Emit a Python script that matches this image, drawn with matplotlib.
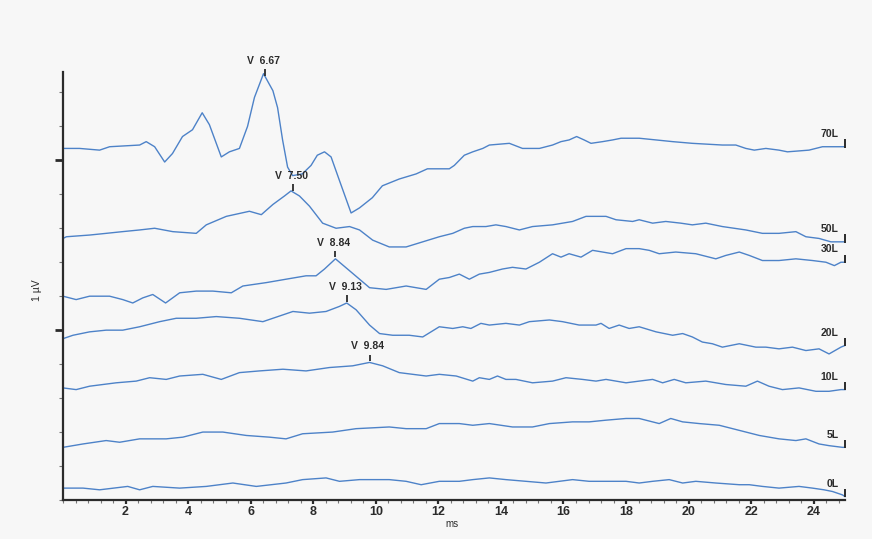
import numpy as np
import matplotlib
matplotlib.use("Agg")
import matplotlib.pyplot as plt
from matplotlib.ticker import MultipleLocator

# ---------------- data (ms, µV as displayed) ----------------
t70 = [0.0, 0.53, 1.17, 1.49, 2.45, 2.66, 2.93, 3.25, 3.50, 3.82,
       4.14, 4.45, 4.68, 5.06, 5.32, 5.64, 5.90, 6.12, 6.41, 6.71,
       6.86, 7.02, 7.18, 7.34, 7.65, 7.93, 8.13, 8.36, 8.57, 8.84,
       9.21, 9.48, 9.89, 10.21, 10.75, 11.29, 11.65,
       12.03, 12.35, 12.51, 12.83, 13.10, 13.42, 13.63, 14.27, 14.69, 15.23,
       15.65, 15.92, 16.18, 16.42, 16.66, 16.88, 17.25, 17.57, 17.84, 18.42,
       18.96, 19.49, 20.12, 21.08, 21.51, 21.83, 22.10, 22.47, 22.89, 23.16,
       23.85, 24.28, 24.81, 25.0]
v70 = [2.07, 2.07, 2.06, 2.08, 2.09, 2.11, 2.08, 1.99, 2.04, 2.14,
       2.18, 2.28, 2.21, 2.02, 2.05, 2.07, 2.20, 2.37, 2.51, 2.41,
       2.31, 2.12, 1.96, 1.91, 1.92, 1.97, 2.03, 2.05, 2.02, 1.88,
       1.69, 1.72, 1.78, 1.85, 1.89, 1.92, 1.95,
       1.95, 1.95, 1.97, 2.03, 2.05, 2.07, 2.09, 2.10, 2.07, 2.07,
       2.09, 2.11, 2.12, 2.14, 2.12, 2.10, 2.11, 2.12, 2.13, 2.13,
       2.12, 2.11, 2.10, 2.09, 2.09, 2.07, 2.06, 2.07, 2.06, 2.05,
       2.06, 2.08, 2.08, 2.08]

t50 = [0.0, 0.11, 0.85, 1.38, 1.90, 2.45, 2.93, 3.51, 4.26, 4.58,
       5.22, 5.96, 6.34, 6.71, 7.08, 7.29, 7.56, 7.88, 8.30, 8.73,
       9.16, 9.48, 9.90, 10.43, 10.97, 11.50,
       12.03, 12.46, 12.83, 13.10, 13.52, 13.84, 14.16, 14.59, 15.01, 15.65,
       16.29, 16.72, 17.14, 17.36, 17.68, 18.21, 18.42, 18.85, 19.27, 19.75,
       20.12, 20.55, 21.08, 21.83, 22.36, 22.89, 23.43, 23.75, 24.17, 24.55,
       24.87, 25.0]
v50 = [1.54, 1.55, 1.56, 1.57, 1.58, 1.59, 1.60, 1.58, 1.57, 1.62,
       1.67, 1.70, 1.68, 1.74, 1.79, 1.82, 1.79, 1.73, 1.63, 1.60,
       1.61, 1.59, 1.53, 1.49, 1.49, 1.52,
       1.55, 1.57, 1.60, 1.61, 1.61, 1.62, 1.61, 1.59, 1.61, 1.62,
       1.64, 1.67, 1.67, 1.67, 1.65, 1.64, 1.65, 1.63, 1.64, 1.63,
       1.62, 1.63, 1.61, 1.59, 1.57, 1.57, 1.58, 1.55, 1.54, 1.52,
       1.52, 1.52]

t30 = [0.0, 0.42, 0.85, 1.49, 1.91, 2.23, 2.55, 2.87, 3.28, 3.73,
       4.26, 4.79, 5.38, 5.75, 6.50, 7.13, 7.77, 8.09, 8.36, 8.71,
       9.16, 9.80, 10.33, 10.97, 11.61,
       12.03, 12.35, 12.67, 12.99, 13.31, 13.63, 14.05, 14.37, 14.80, 15.23,
       15.65, 15.92, 16.18, 16.56, 16.93, 17.25, 17.57, 18.00, 18.42, 18.74,
       19.06, 19.59, 20.23, 20.87, 21.19, 21.62, 21.94, 22.36, 22.89, 23.43,
       23.96, 24.39, 24.66, 24.87, 25.0]
v30 = [1.20, 1.18, 1.20, 1.20, 1.18, 1.16, 1.19, 1.21, 1.16, 1.22,
       1.23, 1.23, 1.22, 1.26, 1.28, 1.30, 1.32, 1.32, 1.36, 1.42,
       1.35, 1.25, 1.24, 1.26, 1.24,
       1.30, 1.31, 1.33, 1.30, 1.33, 1.34, 1.36, 1.37, 1.36, 1.40,
       1.45, 1.43, 1.45, 1.43, 1.47, 1.46, 1.45, 1.48, 1.48, 1.47,
       1.45, 1.46, 1.45, 1.42, 1.44, 1.46, 1.44, 1.41, 1.41, 1.42,
       1.41, 1.40, 1.38, 1.40, 1.40]

t20 = [0.0, 0.32, 0.85, 1.38, 1.91, 2.45, 3.09, 3.62, 4.26, 4.90,
       5.64, 6.39, 6.71, 7.35, 7.88, 8.41, 8.84, 9.07, 9.37, 9.80,
       10.12, 10.54, 11.07, 11.50,
       12.03, 12.46, 12.78, 13.04, 13.36, 13.63, 14.16, 14.59, 14.91, 15.55,
       15.97, 16.50, 17.04, 17.20, 17.46, 17.78, 18.10, 18.42, 18.96, 19.49,
       19.81, 20.12, 20.44, 20.76, 21.08, 21.62, 22.15, 22.47, 22.89, 23.32,
       23.75, 24.17, 24.49, 24.87, 25.0]
v20 = [0.95, 0.97, 0.99, 1.00, 1.00, 1.02, 1.05, 1.07, 1.07, 1.08,
       1.07, 1.05, 1.07, 1.11, 1.10, 1.11, 1.14, 1.16, 1.12, 1.03,
       0.98, 0.97, 0.97, 0.96,
       1.02, 1.01, 1.02, 1.01, 1.04, 1.03, 1.04, 1.03, 1.05, 1.06,
       1.05, 1.03, 1.03, 1.04, 1.01, 1.03, 1.01, 1.02, 0.99, 0.97,
       0.98, 0.96, 0.93, 0.92, 0.90, 0.92, 0.90, 0.90, 0.89, 0.90,
       0.88, 0.89, 0.86, 0.90, 0.91]

t10 = [0.0, 0.42, 0.85, 1.70, 2.34, 2.77, 3.30, 3.73, 4.47, 5.06,
       5.64, 6.28, 7.03, 7.77, 8.52, 9.26, 9.80, 10.22, 10.75, 11.61,
       12.03, 12.57, 13.10, 13.31, 13.63, 13.89, 14.16, 14.48, 15.01, 15.65,
       16.08, 16.61, 17.04, 17.36, 18.00, 18.42, 18.85, 19.17, 19.54, 19.91,
       20.55, 21.19, 21.83, 22.20, 22.57, 23.00, 23.53, 24.07, 24.49, 24.87,
       25.0]
v10 = [0.66, 0.65, 0.67, 0.69, 0.70, 0.72, 0.71, 0.73, 0.74, 0.71,
       0.75, 0.76, 0.77, 0.76, 0.78, 0.79, 0.81, 0.79, 0.75, 0.73,
       0.74, 0.73, 0.70, 0.72, 0.71, 0.73, 0.71, 0.71, 0.69, 0.70,
       0.72, 0.71, 0.70, 0.71, 0.69, 0.70, 0.71, 0.69, 0.71, 0.69,
       0.70, 0.68, 0.67, 0.70, 0.67, 0.65, 0.66, 0.64, 0.64, 0.65,
       0.65]

t5 = [0.0, 0.64, 1.38, 1.81, 2.45, 3.30, 3.83, 4.47, 5.11, 5.86,
      6.60, 7.13, 7.66, 8.62, 9.37, 10.43, 10.97, 11.61,
      12.03, 12.67, 13.10, 13.63, 14.37, 15.01, 15.55, 16.29, 16.82, 17.36,
      18.00, 18.42, 19.06, 19.43, 19.81, 20.34, 20.98, 21.62, 22.26, 22.89,
      23.43, 23.75, 24.17, 24.49, 24.92, 25.0]
v5 = [0.31, 0.33, 0.35, 0.34, 0.36, 0.36, 0.37, 0.40, 0.40, 0.38,
      0.37, 0.36, 0.39, 0.40, 0.42, 0.43, 0.42, 0.42,
      0.45, 0.45, 0.44, 0.45, 0.43, 0.43, 0.45, 0.46, 0.46, 0.47,
      0.48, 0.48, 0.45, 0.48, 0.46, 0.45, 0.44, 0.41, 0.38, 0.36,
      0.35, 0.36, 0.33, 0.32, 0.31, 0.31]

t0 = [0.0, 0.64, 1.17, 2.07, 2.45, 2.87, 3.73, 4.58, 5.43, 6.18,
      7.13, 7.66, 8.41, 8.84, 9.48, 10.43, 10.97, 11.45,
      12.03, 12.67, 13.10, 13.63, 14.16, 14.80, 15.44, 16.29, 16.82, 17.46,
      18.00, 18.42, 18.85, 19.38, 19.81, 20.23, 20.87, 21.62, 21.94, 22.36,
      22.89, 23.53, 23.96, 24.33, 24.60, 24.92, 25.0]
v0 = [0.07, 0.07, 0.06, 0.08, 0.06, 0.08, 0.07, 0.08, 0.10, 0.08,
      0.10, 0.12, 0.13, 0.11, 0.12, 0.12, 0.11, 0.09,
      0.11, 0.11, 0.12, 0.13, 0.12, 0.11, 0.10, 0.12, 0.11, 0.11,
      0.11, 0.10, 0.11, 0.12, 0.10, 0.11, 0.10, 0.09, 0.09, 0.08,
      0.07, 0.08, 0.07, 0.06, 0.05, 0.03, 0.02]

trace_names = ["70L", "50L", "30L", "20L", "10L", "5L", "0L"]
trace_times = [t70, t50, t30, t20, t10, t5, t0]
trace_vals = [v70, v50, v30, v20, v10, v5, v0]

# wave V markers: trace index, marker time (as drawn), printed latency
peak_trace = [0, 1, 2, 3, 4]
peak_time = [6.47, 7.35, 8.71, 9.07, 9.80]
peak_label = ["6.67", "7.50", "8.84", "9.13", "9.84"]

x_ticks = [2, 4, 6, 8, 10, 12, 14, 16, 18, 20, 22, 24]

# ---------------- figure ----------------
bg = "#f7f7f7"
line_col = "#4d82c8"
ink = "#2b2b2b"

fig = plt.figure(figsize=(8.72, 5.39), dpi=100, facecolor=bg)
ax = fig.add_axes([63 / 872, 39 / 539, 782 / 872, 428 / 539])
ax.set_facecolor(bg)

for name, tt, vv in zip(trace_names, trace_times, trace_vals):
    ax.plot(tt, vv, color=line_col, lw=1.0, clip_on=False, solid_joinstyle="round")
    end = vv[-1]
    ax.plot([tt[-1], tt[-1]], [end - 0.005, end + 0.045], color=ink, lw=1.4,
            clip_on=False, solid_capstyle="butt")
    ax.text(tt[-1] - 0.2, end + 0.075, name, ha="right", va="center",
            fontsize=7.5, color=ink, fontfamily="Liberation Sans", fontweight="bold")

for ti, pt, lab in zip(peak_trace, peak_time, peak_label):
    py = float(np.interp(pt, trace_times[ti], trace_vals[ti]))
    ax.plot([pt, pt], [py + 0.008, py + 0.045], color=ink, lw=1.3, clip_on=False,
            solid_capstyle="butt")
    ax.text(pt - 0.05, py + 0.095, "V  " + lab, ha="center", va="center",
            fontsize=7.5, color=ink, fontfamily="Liberation Sans", fontweight="bold")

ax.set_xlim(0, 25)
ax.set_ylim(0, 2.52)

for s in ["top", "right"]:
    ax.spines[s].set_visible(False)
for s in ["left", "bottom"]:
    ax.spines[s].set_color(ink)
    ax.spines[s].set_linewidth(1.6)

ax.set_xticks(x_ticks)
ax.set_xticklabels([str(v) for v in x_ticks], fontsize=9, fontweight="bold",
                   color=ink, fontfamily="Liberation Sans")
ax.xaxis.set_minor_locator(MultipleLocator(0.4))
ax.tick_params(axis="x", which="major", length=3, width=1.6, color=ink, pad=1)
ax.tick_params(axis="x", which="minor", length=2, width=0.8, color="#777777")

ax.set_yticks([1.0, 2.0])
ax.set_yticklabels([])
ax.yaxis.set_minor_locator(MultipleLocator(0.2))
ax.tick_params(axis="y", which="major", length=6, width=2.0, color=ink)
ax.tick_params(axis="y", which="minor", length=3, width=0.8, color="#777777")

ax.set_xlabel("ms", fontsize=7, color=ink, fontfamily="Liberation Sans")
ax.xaxis.set_label_coords(0.497, -0.044)
ax.set_ylabel("1 µV", fontsize=7.5, color=ink, fontfamily="Liberation Sans")
ax.yaxis.set_label_coords(-0.027, 0.49)

fig.savefig("out.png", dpi=100, facecolor=bg)
